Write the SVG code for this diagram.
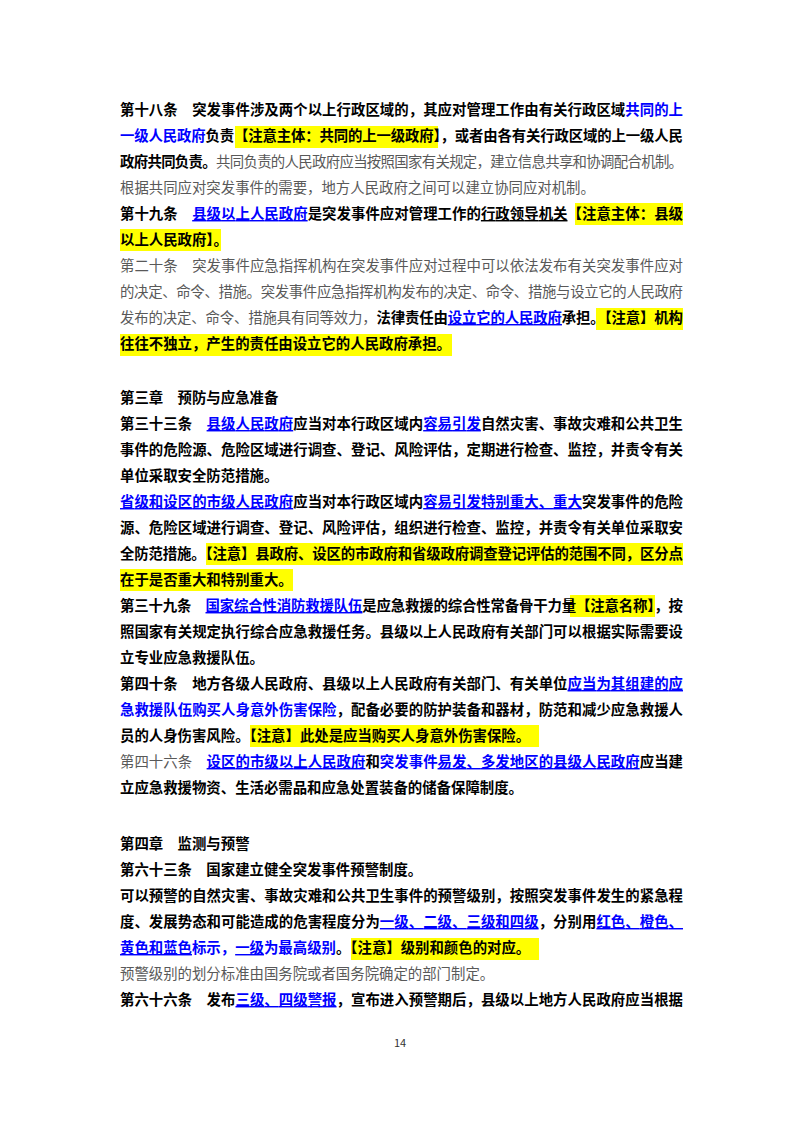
<svg xmlns="http://www.w3.org/2000/svg" width="800" height="1132" viewBox="0 0 800 1132">
<style>
text{font-family:"Noto Sans CJK SC","Noto Sans",sans-serif;font-size:14.4px;font-weight:700;fill:#000}
.g{fill:#595959;font-weight:400}
.b{fill:#0000ff}
.u{text-decoration:underline}
.hl{fill:#ffff00}
.pn{font-size:11px;font-weight:400;fill:#333}
</style>
<rect width="800" height="1132" fill="#fff"/>
<g id="highlights">
<rect class="hl" x="235" y="126" width="203" height="22"/>
<rect class="hl" x="575" y="203" width="108" height="22"/>
<rect class="hl" x="120" y="229" width="101" height="22"/>
<rect class="hl" x="596" y="308" width="87" height="22"/>
<rect class="hl" x="120" y="334" width="332" height="22"/>
<rect class="hl" x="206" y="543" width="477" height="22"/>
<rect class="hl" x="120" y="569" width="173" height="22"/>
<rect class="hl" x="570" y="595" width="85" height="22"/>
<rect class="hl" x="250" y="725" width="289" height="22"/>
<rect class="hl" x="351" y="938" width="188" height="22"/>
</g>
<g id="text">
<text x="120" y="115" textLength="563" lengthAdjust="spacing">第十八条　突发事件涉及两个以上行政区域的，其应对管理工作由有关行政区域<tspan class="b">共同的上</tspan></text>
<text x="120" y="141" textLength="563" lengthAdjust="spacing"><tspan class="b">一级人民政府</tspan>负责【注意主体：共同的上一级政府】，或者由各有关行政区域的上一级人民</text>
<text x="120" y="167" textLength="563" lengthAdjust="spacing">政府共同负责。<tspan class="g">共同负责的人民政府应当按照国家有关规定，建立信息共享和协调配合机制。</tspan></text>
<text x="120" y="193" class="g">根据共同应对突发事件的需要，地方人民政府之间可以建立协同应对机制。</text>
<text x="120" y="219" textLength="563" lengthAdjust="spacing">第十九条　<tspan class="b u">县级以上人民政府</tspan>是突发事件应对管理工作的<tspan class="u">行政领导机关</tspan>【注意主体：县级</text>
<text x="120" y="245">以上人民政府】。</text>
<text x="120" y="271" class="g" textLength="563" lengthAdjust="spacing">第二十条　突发事件应急指挥机构在突发事件应对过程中可以依法发布有关突发事件应对</text>
<text x="120" y="297" class="g" textLength="563" lengthAdjust="spacing">的决定、命令、措施。突发事件应急指挥机构发布的决定、命令、措施与设立它的人民政府</text>
<text x="120" y="323" textLength="563" lengthAdjust="spacing"><tspan class="g">发布的决定、命令、措施具有同等效力，</tspan>法律责任由<tspan class="b u">设立它的人民政府</tspan>承担。【注意】机构</text>
<text x="120" y="349">往往不独立，产生的责任由设立它的人民政府承担。</text>

<text x="120" y="403">第三章　预防与应急准备</text>
<text x="120" y="429" textLength="563" lengthAdjust="spacing">第三十三条　<tspan class="b u">县级人民政府</tspan>应当对本行政区域内<tspan class="b u">容易引发</tspan>自然灾害、事故灾难和公共卫生</text>
<text x="120" y="455" textLength="563" lengthAdjust="spacing">事件的危险源、危险区域进行调查、登记、风险评估，定期进行检查、监控，并责令有关</text>
<text x="120" y="481">单位采取安全防范措施。</text>
<text x="120" y="507" textLength="563" lengthAdjust="spacing"><tspan class="b u">省级和设区的市级人民政府</tspan>应当对本行政区域内<tspan class="b u">容易引发特别重大、重大</tspan>突发事件的危险</text>
<text x="120" y="533" textLength="563" lengthAdjust="spacing">源、危险区域进行调查、登记、风险评估，组织进行检查、监控，并责令有关单位采取安</text>
<text x="120" y="559" textLength="563" lengthAdjust="spacing">全防范措施。【注意】县政府、设区的市政府和省级政府调查登记评估的范围不同，区分点</text>
<text x="120" y="585">在于是否重大和特别重大。</text>
<text x="120" y="611" textLength="563" lengthAdjust="spacing">第三十九条　<tspan class="b u">国家综合性消防救援队伍</tspan>是应急救援的综合性常备骨干力量【注意名称】，按</text>
<text x="120" y="637" textLength="563" lengthAdjust="spacing">照国家有关规定执行综合应急救援任务。县级以上人民政府有关部门可以根据实际需要设</text>
<text x="120" y="663">立专业应急救援队伍。</text>
<text x="120" y="689" textLength="563" lengthAdjust="spacing">第四十条　地方各级人民政府、县级以上人民政府有关部门、有关单位<tspan class="b u">应当为其组建的应</tspan></text>
<text x="120" y="715" textLength="563" lengthAdjust="spacing"><tspan class="b">急救援队伍购买人身意外伤害保险</tspan>，配备必要的防护装备和器材，防范和减少应急救援人</text>
<text x="120" y="741">员的人身伤害风险。【注意】此处是应当购买人身意外伤害保险。</text>
<text x="120" y="767" textLength="563" lengthAdjust="spacing"><tspan class="g">第四十六条　</tspan><tspan class="b u">设区的市级以上人民政府</tspan>和<tspan class="b">突发事件</tspan><tspan class="b u">易发、多发地区的县级人民政府</tspan>应当建</text>
<text x="120" y="793">立应急救援物资、生活必需品和应急处置装备的储备保障制度。</text>

<text x="120" y="849">第四章　监测与预警</text>
<text x="120" y="875">第六十三条　国家建立健全突发事件预警制度。</text>
<text x="120" y="901" textLength="563" lengthAdjust="spacing">可以预警的自然灾害、事故灾难和公共卫生事件的预警级别，按照突发事件发生的紧急程</text>
<text x="120" y="927" textLength="563" lengthAdjust="spacing">度、发展势态和可能造成的危害程度分为<tspan class="b u">一级、二级、三级和四级</tspan>，分别用<tspan class="b u">红色、橙色、</tspan></text>
<text x="120" y="953"><tspan class="b u">黄色和蓝色</tspan><tspan class="b">标示，</tspan><tspan class="b u">一级</tspan><tspan class="b">为最高级别</tspan>。【注意】级别和颜色的对应。</text>
<text x="120" y="979" class="g">预警级别的划分标准由国务院或者国务院确定的部门制定。</text>
<text x="120" y="1005" textLength="563" lengthAdjust="spacing">第六十六条　发布<tspan class="b u">三级、四级警报</tspan>，宣布进入预警期后，县级以上地方人民政府应当根据</text>
<text x="400" y="1047" class="pn" text-anchor="middle">14</text>
</g>
</svg>
